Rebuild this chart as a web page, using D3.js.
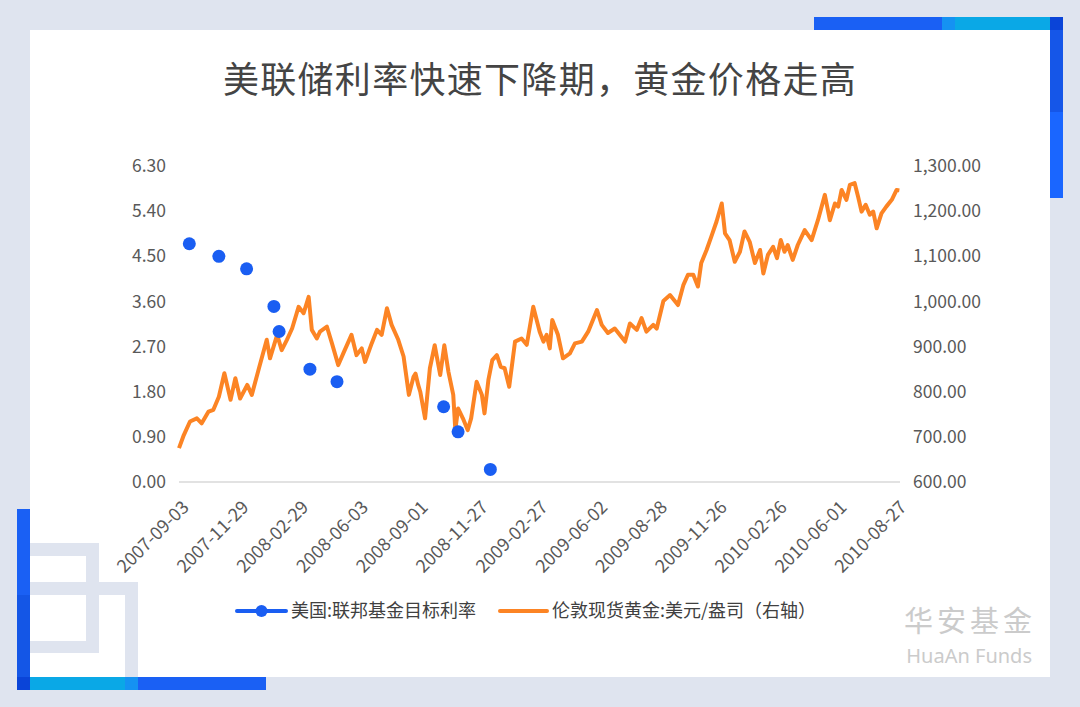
<!DOCTYPE html>
<html><head><meta charset="utf-8">
<script src="https://cdn.jsdelivr.net/npm/d3@7"></script>
<style>html,body{margin:0;padding:0;background:#dfe4ef;} svg{display:block}</style>
</head><body><svg id="c" width="1080" height="707"></svg>
<script>
const titleText = "美联储利率快速下降期，黄金价格走高";
const tickDates = ["2007-09-03","2007-11-29","2008-02-29","2008-06-03","2008-09-01","2008-11-27","2009-02-27","2009-06-02","2009-08-28","2009-11-26","2010-02-26","2010-06-01","2010-08-27"];
const leftTicks = [0,0.9,1.8,2.7,3.6,4.5,5.4,6.3];
const rightTicks = [600,700,800,900,1000,1100,1200,1300];
const seriesNames = ["美国:联邦基金目标利率","伦敦现货黄金:美元/盎司（右轴）"];
const fedDates = ["2007-09-18","2007-10-31","2007-12-11","2008-01-22","2008-01-30","2008-03-18","2008-04-30","2008-10-08","2008-10-29","2008-12-16"];
const fedRates = [4.75,4.5,4.25,3.5,3.0,2.25,2.0,1.5,1.0,0.25];
const goldDates = ["2007-09-03","2007-09-10","2007-09-19","2007-09-29","2007-10-06","2007-10-16","2007-10-23","2007-10-31","2007-11-08","2007-11-17","2007-11-24","2007-12-01","2007-12-12","2007-12-19","2007-12-30","2008-01-11","2008-01-16","2008-01-27","2008-02-03","2008-02-11","2008-02-19","2008-02-29","2008-03-08","2008-03-16","2008-03-21","2008-03-29","2008-04-03","2008-04-14","2008-04-22","2008-05-02","2008-05-10","2008-05-23","2008-05-31","2008-06-08","2008-06-13","2008-06-23","2008-07-01","2008-07-08","2008-07-16","2008-07-23","2008-08-02","2008-08-10","2008-08-18","2008-08-25","2008-08-28","2008-09-01","2008-09-04","2008-09-11","2008-09-18","2008-09-25","2008-10-03","2008-10-09","2008-10-15","2008-10-22","2008-10-25","2008-10-29","2008-11-05","2008-11-12","2008-11-17","2008-11-25","2008-12-03","2008-12-07","2008-12-13","2008-12-19","2008-12-26","2009-01-01","2009-01-07","2009-01-14","2009-01-23","2009-02-02","2009-02-10","2009-02-20","2009-03-02","2009-03-08","2009-03-13","2009-03-18","2009-03-22","2009-03-31","2009-04-08","2009-04-19","2009-04-27","2009-05-08","2009-05-18","2009-06-01","2009-06-08","2009-06-17","2009-06-27","2009-07-12","2009-07-19","2009-07-29","2009-08-05","2009-08-12","2009-08-22","2009-08-27","2009-09-06","2009-09-16","2009-09-28","2009-10-06","2009-10-13","2009-10-21","2009-10-28","2009-11-02","2009-11-10","2009-11-17","2009-11-25","2009-12-03","2009-12-08","2009-12-15","2009-12-23","2009-12-31","2010-01-07","2010-01-15","2010-01-23","2010-01-31","2010-02-05","2010-02-12","2010-02-20","2010-02-26","2010-03-04","2010-03-10","2010-03-15","2010-03-23","2010-03-31","2010-04-11","2010-04-22","2010-05-02","2010-05-13","2010-05-21","2010-05-29","2010-06-03","2010-06-08","2010-06-15","2010-06-20","2010-06-27","2010-07-02","2010-07-07","2010-07-13","2010-07-19","2010-07-24","2010-07-29","2010-08-05","2010-08-12","2010-08-20","2010-08-27","2010-08-31"];
const goldPrices = [675,704,734,741,730,756,760,789,841,782,830,785,815,793,852,915,874,926,892,915,940,988,974,1010,937,918,933,944,907,859,885,926,881,896,866,907,937,926,985,948,915,878,793,833,840,815,800,741,852,903,837,903,844,793,715,763,741,715,741,822,793,752,826,870,881,855,852,811,911,918,904,988,933,911,926,896,959,926,874,885,907,911,933,981,948,930,940,911,951,937,963,933,948,940,1001,1014,992,1036,1059,1059,1033,1085,1114,1143,1177,1217,1151,1136,1088,1110,1155,1132,1085,1114,1062,1103,1121,1096,1136,1110,1125,1092,1125,1158,1136,1180,1236,1180,1217,1210,1247,1225,1258,1262,1232,1199,1214,1192,1199,1162,1195,1210,1225,1247,1246];
const watermarkCN = "华安基金";
const watermarkEN = "HuaAn Funds";

const parse = d3.timeParse("%Y-%m-%d");
const fmtDate = d3.timeFormat("%Y-%m-%d");
const FONT = "'Noto Sans CJK SC','Noto Sans',sans-serif";
const BLUE = "#1a60f4", CYAN = "#0aa8e6", BG = "#dfe4ef", ORANGE = "#fc8424", DOT = "#1a5ef2";

const svg = d3.select("#c");
svg.append("rect").attr("width",1080).attr("height",707).attr("fill",BG);
// card
svg.append("rect").attr("x",30).attr("y",30).attr("width",1020).attr("height",647).attr("fill","#fff");

// decorative gray squares bottom-left
const g0 = svg.append("g").attr("fill",BG);
g0.append("rect").attr("x",30).attr("y",543).attr("width",69).attr("height",13);
g0.append("rect").attr("x",86).attr("y",543).attr("width",13).attr("height",110);
g0.append("rect").attr("x",30).attr("y",641).attr("width",69).attr("height",12);
g0.append("rect").attr("x",30).attr("y",582).attr("width",108).attr("height",13);
g0.append("rect").attr("x",125).attr("y",582).attr("width",13).attr("height",95);

// blue bars
const gb = svg.append("g");
gb.append("rect").attr("x",17).attr("y",509).attr("width",13).attr("height",181).attr("fill",BLUE);
gb.append("rect").attr("x",17).attr("y",595).attr("width",13).attr("height",95).attr("fill","#1456e6");
gb.append("rect").attr("x",17).attr("y",677).attr("width",249).attr("height",13).attr("fill",BLUE);
gb.append("rect").attr("x",30).attr("y",677).attr("width",95).attr("height",13).attr("fill",CYAN);
gb.append("rect").attr("x",125).attr("y",677).attr("width",13).attr("height",13).attr("fill","#1592f2");
gb.append("rect").attr("x",17).attr("y",677).attr("width",13).attr("height",13).attr("fill","#0a44d8");

gb.append("rect").attr("x",814).attr("y",17).attr("width",249).attr("height",13).attr("fill",BLUE);
gb.append("rect").attr("x",942).attr("y",17).attr("width",13).attr("height",13).attr("fill","#1592f2");
gb.append("rect").attr("x",955).attr("y",17).attr("width",95).attr("height",13).attr("fill",CYAN);
gb.append("rect").attr("x",1050).attr("y",17).attr("width",13).attr("height",181).attr("fill","#1a66ff");
gb.append("rect").attr("x",1050).attr("y",17).attr("width",13).attr("height",95).attr("fill","#1556e8");
gb.append("rect").attr("x",1050).attr("y",17).attr("width",13).attr("height",13).attr("fill","#0a44d8");

// title
svg.append("text").attr("x",540).attr("y",93).attr("text-anchor","middle")
  .attr("font-family",FONT).attr("font-size",36).attr("font-weight",400).attr("fill","#444")
  .attr("letter-spacing",1.3).text(titleText);

// scales
const X0 = 179, X1 = 896.6, Y0 = 482, Y1 = 166;
const idx = d3.scaleLinear().domain([0, tickDates.length-1]).range([X0, X1]);
const x = d3.scaleTime().domain(tickDates.map(parse)).range(tickDates.map((d,i)=>idx(i)));
const yL = d3.scaleLinear().domain([0,6.3]).range([Y0,Y1]);
const yR = d3.scaleLinear().domain([600,1300]).range([Y0,Y1]);

// baseline
svg.append("line").attr("x1",X0).attr("x2",900).attr("y1",Y0).attr("y2",Y0)
  .attr("stroke","#d9d9d9").attr("stroke-width",1.5);

// left axis
const ax = svg.append("g").attr("transform",`translate(${X0},0)`)
  .call(d3.axisLeft(yL).tickValues(leftTicks).tickFormat(d3.format(".2f")).tickSize(0).tickPadding(13));
ax.select(".domain").remove();
ax.selectAll("text").attr("font-family",FONT).attr("font-size",17.5).attr("fill","#595959");

const ar = svg.append("g").attr("transform",`translate(900,0)`)
  .call(d3.axisRight(yR).tickValues(rightTicks).tickFormat(d3.format(",.2f")).tickSize(0).tickPadding(13));
ar.select(".domain").remove();
ar.selectAll("text").attr("font-family",FONT).attr("font-size",17.5).attr("fill","#595959");

// x axis labels
const axb = svg.append("g").attr("transform",`translate(0,${Y0})`)
  .call(d3.axisBottom(x).tickValues(tickDates.map(parse)).tickFormat(fmtDate).tickSize(0));
axb.select(".domain").remove();
axb.selectAll("text").attr("font-family",FONT).attr("font-size",18).attr("fill","#595959")
  .attr("text-anchor","end").attr("y",0).attr("dy","0.35em")
  .attr("transform","translate(6,22) rotate(-45)");

// gold line
const gold = goldDates.map((d,i)=>({date:parse(d), v:goldPrices[i]}));
svg.append("path").datum(gold)
  .attr("d", d3.line().x(d=>x(d.date)).y(d=>yR(d.v)))
  .attr("fill","none").attr("stroke",ORANGE).attr("stroke-width",4).attr("stroke-linejoin","round");

// fed dots
svg.append("g").selectAll("circle").data(fedDates.map((d,i)=>({date:parse(d), v:fedRates[i]})))
  .join("circle").attr("cx",d=>x(d.date)).attr("cy",d=>yL(d.v)).attr("r",6.5).attr("fill",DOT);

// legend
const lg = svg.append("g");
lg.append("line").attr("x1",237).attr("x2",286).attr("y1",611).attr("y2",611).attr("stroke",DOT).attr("stroke-width",4).attr("stroke-linecap","round");
lg.append("circle").attr("cx",261.5).attr("cy",611).attr("r",6).attr("fill",DOT);
lg.append("text").attr("x",291).attr("y",611).attr("dy","0.35em").attr("font-family",FONT).attr("font-size",18).attr("fill","#404040").text(seriesNames[0]);
lg.append("line").attr("x1",500).attr("x2",547).attr("y1",611).attr("y2",611).attr("stroke",ORANGE).attr("stroke-width",4).attr("stroke-linecap","round");
lg.append("text").attr("x",552).attr("y",611).attr("dy","0.35em").attr("font-family",FONT).attr("font-size",18).attr("fill","#404040").text(seriesNames[1]);

// watermark
svg.append("text").attr("x",1036).attr("y",632).attr("text-anchor","end").attr("font-family",FONT)
  .attr("font-size",29).attr("letter-spacing",4).attr("fill","#cbcbcb").text(watermarkCN);
svg.append("text").attr("x",1032).attr("y",663).attr("text-anchor","end").attr("font-family","'Noto Sans',sans-serif")
  .attr("font-size",20).attr("fill","#cbcbcb").text(watermarkEN);
</script></body></html>
